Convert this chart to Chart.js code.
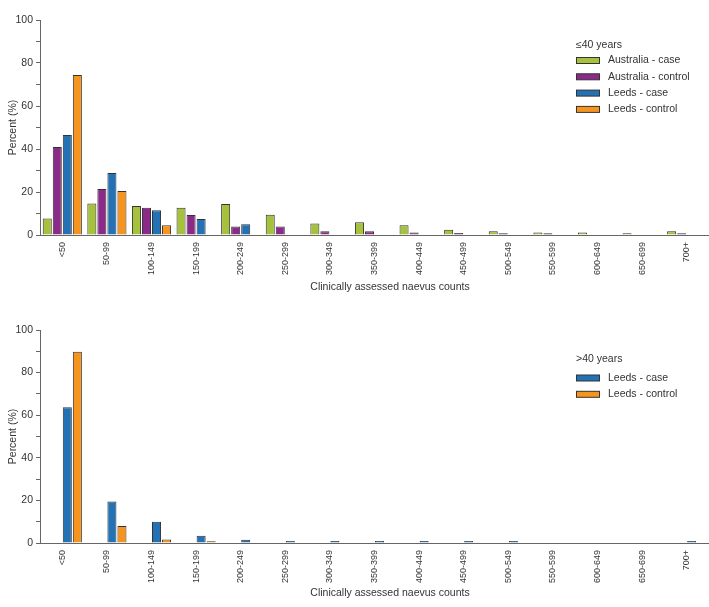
<!DOCTYPE html>
<html>
<head>
<meta charset="utf-8">
<script src="https://cdn.jsdelivr.net/npm/chart.js@4/dist/chart.umd.min.js"></script>
<style>
  html, body { margin: 0; padding: 0; background: #fff; }
  .wrap { width: 709px; }
  canvas { display: block; }
</style>
</head>
<body>
<div class="wrap">
  <canvas id="youngChart" width="709" height="300"></canvas>
  <canvas id="olderChart" width="709" height="307"></canvas>
</div>
<script>
// Categorias (contagem de nevos)
const categories = ["<50", "50-99", "100-149", "150-199", "200-249", "250-299", "300-349",
  "350-399", "400-449", "450-499", "500-549", "550-599", "600-649", "650-699", "700+"];

// ≤40 anos
const ausCaseYoung = [7.7, 14.7, 13.5, 12.7, 14.4, 9.4, 5.4, 5.9, 4.5, 2.5, 1.7, 1.2, 1.2, 0.8, 1.7];
const ausControlYoung = [40.9, 21.4, 12.7, 9.3, 4.0, 4.0, 1.7, 1.7, 1.2, 0.9, 0.8, 0.8, 0, 0, 0.8];
const leedsCaseYoung = [46.5, 28.8, 11.5, 7.4, 5.0, 0, 0, 0, 0, 0, 0, 0, 0, 0, 0];
const leedsControlYoung = [74.4, 20.5, 4.5, 0, 0, 0, 0, 0, 0, 0, 0, 0, 0, 0, 0];

// >40 anos
const emptySeries = categories.map(() => null);
const leedsCaseOld = [63.7, 19.5, 10.0, 3.4, 1.5, 0.9, 0.9, 0.9, 0.9, 0.9, 0.9, 0, 0, 0, 0.9];
const leedsControlOld = [89.8, 8.0, 1.6, 0.8, 0, 0, 0, 0, 0, 0, 0, 0, 0, 0, 0];

const yTicks = [0, 20, 40, 60, 80, 100];

const colors = {
  ausCase: "#a6c23c",
  ausControl: "#8b2a88",
  leedsCase: "#2372b6",
  leedsControl: "#f7941e",
};
const border = "#333";
const textColor = "#333";
const axisColor = "#666";
const fontFamily = "'Liberation Sans', Arial, Helvetica, sans-serif";
const xTitle = "Clinically assessed naevus counts";

// Legenda desenhada à mão (título + caixas) e título do eixo x
const groupLegend = {
  id: "groupLegend",
  afterDraw(chart, args, opts) {
    const ctx = chart.ctx;
    ctx.save();
    ctx.font = "10.5px " + fontFamily;
    ctx.fillStyle = textColor;
    ctx.textBaseline = "middle";
    ctx.textAlign = "left";
    ctx.fillText(opts.title, opts.x, opts.y);
    let y = opts.y + opts.firstGap;
    chart.data.datasets.forEach((ds) => {
      if (!ds.inLegend) return;
      ctx.fillStyle = ds.backgroundColor;
      ctx.fillRect(opts.x + 0.5, y - 3, 23, 6);
      ctx.strokeStyle = border;
      ctx.lineWidth = 1;
      ctx.strokeRect(opts.x + 0.5, y - 3, 23, 6);
      ctx.fillStyle = textColor;
      ctx.fillText(ds.label, opts.x + 32, y);
      y += opts.step;
    });

    // Título do eixo x
    ctx.textAlign = "center";
    ctx.fillText(xTitle, opts.titleX, opts.titleY);
    ctx.restore();
  },
};

function makeDataset(label, data, color, inLegend) {
  return {
    label: label,
    data: data,
    backgroundColor: color,
    borderColor: border,
    borderWidth: 1,
    borderSkipped: "bottom",
    barPercentage: 0.9,
    categoryPercentage: 0.9,
    inLegend: inLegend,
  };
}

function makeOptions(legendOpts, xHeight, topPad) {
  return {
    responsive: false,
    animation: false,
    layout: { padding: { top: topPad, left: 0, right: 0, bottom: 0 } },
    plugins: {
      legend: { display: false },
      tooltip: { enabled: false },
      groupLegend: legendOpts,
    },
    scales: {
      x: {
        afterFit: (scale) => { scale.height = xHeight; },
        grid: { display: false, drawTicks: false, tickLength: 0 },
        border: { display: true, color: axisColor, width: 1 },
        ticks: {
          autoSkip: false,
          maxRotation: 90,
          minRotation: 90,
          padding: 7,
          color: textColor,
          font: { family: fontFamily, size: 9 },
        },
      },
      y: {
        min: 0,
        max: 100,
        afterFit: (scale) => { scale.width = 40; },
        afterBuildTicks: (scale) => {
          // marcas a cada 10, rótulos só a cada 20
          const t = [];
          for (let v = 0; v <= 100; v += 10) t.push({ value: v });
          scale.ticks = t;
        },
        grid: {
          display: true,
          drawOnChartArea: false,
          drawTicks: true,
          tickLength: 4,
          color: axisColor,
        },
        border: { display: true, color: axisColor, width: 1 },
        ticks: {
          padding: 3,
          color: textColor,
          font: { family: fontFamily, size: 10.5 },
          callback: (v) => (yTicks.includes(v) ? v : ""),
        },
        title: {
          display: true,
          text: "Percent (%)",
          color: textColor,
          font: { family: fontFamily, size: 10.5 },
          padding: { top: 7, bottom: 0 },
        },
      },
    },
  };
}

// Gráfico ≤40 anos
new Chart(document.getElementById("youngChart").getContext("2d"), {
  type: "bar",
  data: {
    labels: categories,
    datasets: [
      makeDataset("Australia - case", ausCaseYoung, colors.ausCase, true),
      makeDataset("Australia - control", ausControlYoung, colors.ausControl, true),
      makeDataset("Leeds - case", leedsCaseYoung, colors.leedsCase, true),
      makeDataset("Leeds - control", leedsControlYoung, colors.leedsControl, true),
    ],
  },
  options: makeOptions(
    { title: "≤40 years", x: 576, y: 45, firstGap: 15.5, step: 16.3, titleX: 390, titleY: 287 },
    65, 20),
  plugins: [groupLegend],
});

// Gráfico >40 anos
new Chart(document.getElementById("olderChart").getContext("2d"), {
  type: "bar",
  data: {
    labels: categories,
    datasets: [
      makeDataset("Australia - case", emptySeries, colors.ausCase, false),
      makeDataset("Australia - control", emptySeries, colors.ausControl, false),
      makeDataset("Leeds - case", leedsCaseOld, colors.leedsCase, true),
      makeDataset("Leeds - control", leedsControlOld, colors.leedsControl, true),
    ],
  },
  options: makeOptions(
    { title: ">40 years", x: 576, y: 59, firstGap: 19, step: 16.3, titleX: 390, titleY: 293 },
    64, 30),
  plugins: [groupLegend],
});
</script>
</body>
</html>
